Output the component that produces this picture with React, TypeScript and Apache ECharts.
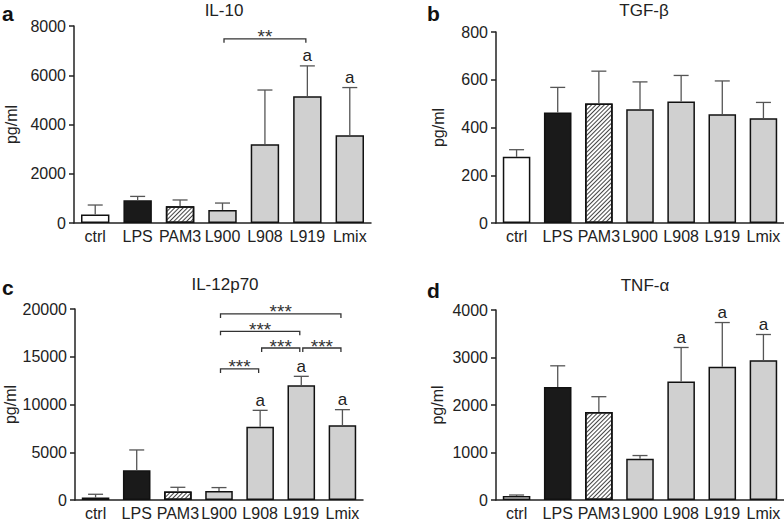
import React, { useEffect, useRef } from "react";
import * as echarts from "echarts";

const categories = ["ctrl", "LPS", "PAM3", "L900", "L908", "L919", "Lmix"];

// IL-10
const il10Mean = [350, 920, 680, 530, 3200, 5150, 3560];
const il10Upper = [730, 1080, 935, 810, 5400, 6380, 5500];
const il10A = [0, 0, 0, 0, 0, 1, 1];
const il10Brackets: [number, number, number, string][] = [[3, 5, 7480, "**"]];
const il10Ticks = { max: 8000, interval: 2000 };

// TGF-beta
const tgfMean = [277, 463, 501, 476, 509, 455, 439];
const tgfUpper = [307, 568, 636, 591, 618, 595, 505];
const tgfA = [0, 0, 0, 0, 0, 0, 0];
const tgfBrackets: [number, number, number, string][] = [];
const tgfTicks = { max: 800, interval: 200 };

// IL-12p70
const il12Mean = [250, 3110, 880, 950, 7680, 12010, 7820];
const il12Upper = [600, 5240, 1330, 1300, 9390, 12950, 9460];
const il12A = [0, 0, 0, 0, 1, 1, 1];
const il12Brackets: [number, number, number, string][] = [
  [3, 6, 19480, "***"],
  [3, 5, 17665, "***"],
  [4, 5, 15915, "***"],
  [5, 6, 15915, "***"],
  [3, 4, 13720, "***"],
];
const il12Ticks = { max: 20000, interval: 5000 };

// TNF-alpha
const tnfMean = [84, 2378, 1853, 867, 2497, 2804, 2944];
const tnfUpper = [105, 2825, 2175, 936, 3211, 3736, 3484];
const tnfA = [0, 0, 0, 0, 1, 1, 1];
const tnfBrackets: [number, number, number, string][] = [];
const tnfTicks = { max: 4000, interval: 1000 };

const FONT = '"Liberation Sans", Arial, Helvetica, sans-serif';
const INK = "#222";

const barStyles: any[] = [
  { color: "#ffffff" },
  { color: "#1a1a1a" },
  {
    color: "#ffffff",
    decal: {
      symbol: "rect",
      symbolSize: 1,
      symbolKeepAspect: false,
      color: "#444",
      dashArrayX: [1, 0],
      dashArrayY: [1, 1.3],
      rotation: -Math.PI / 4,
    },
  },
  { color: "#d0d0d0" },
  { color: "#d0d0d0" },
  { color: "#d0d0d0" },
  { color: "#d0d0d0" },
];

const panels = [
  {
    grid: { left: 74, top: 26, width: 297, height: 197 },
    ticks: il10Ticks, mean: il10Mean, upper: il10Upper, a: il10A, brackets: il10Brackets,
    title: "IL-10", titleX: 224, titleY: 10.5, letter: "a", letterX: 2, letterY: 13, nameGap: 55,
  },
  {
    grid: { left: 496, top: 32, width: 288, height: 191 },
    ticks: tgfTicks, mean: tgfMean, upper: tgfUpper, a: tgfA, brackets: tgfBrackets,
    title: "TGF-β", titleX: 644, titleY: 10, letter: "b", letterX: 427, letterY: 13, nameGap: 50,
  },
  {
    grid: { left: 75, top: 309, width: 288, height: 191 },
    ticks: il12Ticks, mean: il12Mean, upper: il12Upper, a: il12A, brackets: il12Brackets,
    title: "IL-12p70", titleX: 225, titleY: 284.5, letter: "c", letterX: 2, letterY: 287, nameGap: 55,
  },
  {
    grid: { left: 496, top: 310, width: 288, height: 190 },
    ticks: tnfTicks, mean: tnfMean, upper: tnfUpper, a: tnfA, brackets: tnfBrackets,
    title: "TNF-α", titleX: 645, titleY: 285.5, letter: "d", letterX: 427, letterY: 290, nameGap: 51,
  },
];

function buildOption() {
  const grid: any[] = [];
  const xAxis: any[] = [];
  const yAxis: any[] = [];
  const series: any[] = [];
  const graphic: any[] = [];

  panels.forEach((p, k) => {
    grid.push({ ...p.grid });
    xAxis.push({
      type: "category",
      gridIndex: k,
      data: categories,
      axisTick: { show: false },
      axisLine: { show: true, lineStyle: { color: INK, width: 1.5 } },
      axisLabel: { interval: 0, fontSize: 16, fontFamily: FONT, color: INK, margin: 5 },
      splitLine: { show: false },
    });
    yAxis.push({
      type: "value",
      gridIndex: k,
      min: 0,
      max: p.ticks.max,
      interval: p.ticks.interval,
      name: "pg/ml",
      nameLocation: "middle",
      nameRotate: 90,
      nameGap: p.nameGap,
      nameTextStyle: { fontSize: 16, fontFamily: FONT, color: INK },
      axisLine: { show: true, lineStyle: { color: INK, width: 1.5 } },
      axisTick: { show: true, length: 5, lineStyle: { color: INK, width: 1.5 } },
      axisLabel: {
        fontSize: 16, fontFamily: FONT, color: INK, margin: 8,
        formatter: (v: number) => String(v),
      },
      splitLine: { show: false },
    });

    series.push({
      type: "bar",
      xAxisIndex: k,
      yAxisIndex: k,
      barCategoryGap: "33%",
      data: p.mean.map((v, i) => ({
        value: v,
        itemStyle: { ...barStyles[i], borderColor: "#111", borderWidth: 1.5 },
      })),
      z: 2,
      silent: true,
    });

    const aFlags = p.a;
    series.push({
      type: "custom",
      xAxisIndex: k,
      yAxisIndex: k,
      silent: true,
      z: 3,
      data: p.mean.map((v, i) => [i, v, p.upper[i]]),
      encode: { x: 0, y: [1, 2] },
      renderItem: (params: any, api: any) => {
        const i = api.value(0);
        const top = api.coord([i, api.value(1)]);
        const up = api.coord([i, api.value(2)]);
        const st = { stroke: "#555", lineWidth: 1.3 };
        const children: any[] = [
          { type: "line", shape: { x1: top[0], y1: top[1], x2: up[0], y2: up[1] }, style: st },
          { type: "line", shape: { x1: up[0] - 7.5, y1: up[1], x2: up[0] + 7.5, y2: up[1] }, style: st },
        ];
        if (aFlags[params.dataIndex]) {
          children.push({
            type: "text",
            x: up[0],
            y: up[1] - 10,
            style: {
              text: "a", fontSize: 17, fontFamily: FONT, fill: INK,
              align: "center", verticalAlign: "middle",
            },
          });
        }
        return { type: "group", children };
      },
    });

    if (p.brackets.length) {
      const br = p.brackets;
      series.push({
        type: "custom",
        xAxisIndex: k,
        yAxisIndex: k,
        silent: true,
        z: 4,
        clip: false,
        data: br.map((b) => [b[0], b[1], b[2]]),
        encode: { x: [0, 1], y: 2 },
        renderItem: (params: any, api: any) => {
          const l = api.coord([api.value(0), api.value(2)]);
          const r = api.coord([api.value(1), api.value(2)]);
          const x1 = l[0] + 1.5;
          const x2 = r[0] - 1.5;
          const y = l[1];
          return {
            type: "group",
            children: [
              {
                type: "polyline",
                shape: { points: [[x1, y + 4], [x1, y], [x2, y], [x2, y + 4]] },
                style: { stroke: "#333", lineWidth: 1.3, fill: "none" },
              },
              {
                type: "text",
                x: (x1 + x2) / 2,
                y: y - 2,
                style: {
                  text: br[params.dataIndex][3], fontSize: 19, fontFamily: FONT, fill: "#333",
                  align: "center", verticalAlign: "middle",
                },
              },
            ],
          };
        },
      });
    }

    graphic.push({
      type: "text",
      x: p.titleX,
      y: p.titleY,
      style: { text: p.title, fontSize: 17, fontFamily: FONT, fill: INK, align: "center", verticalAlign: "middle" },
    });
    graphic.push({
      type: "text",
      x: p.letterX,
      y: p.letterY,
      style: { text: p.letter, fontSize: 21, fontWeight: "bold", fontFamily: FONT, fill: "#111", align: "left", verticalAlign: "middle" },
    });
  });

  return {
    animation: false,
    backgroundColor: "#ffffff",
    grid,
    xAxis,
    yAxis,
    series,
    graphic,
  };
}

export default function App() {
  const ref = useRef<HTMLDivElement>(null);
  useEffect(() => {
    if (!ref.current) return;
    const chart = echarts.init(ref.current, null, { renderer: "svg" });
    chart.setOption(buildOption() as any);
    return () => chart.dispose();
  }, []);
  return (
    <div
      ref={ref}
      style={{ position: "fixed", left: 0, top: 0, width: 784, height: 523, background: "#fff" }}
    />
  );
}
